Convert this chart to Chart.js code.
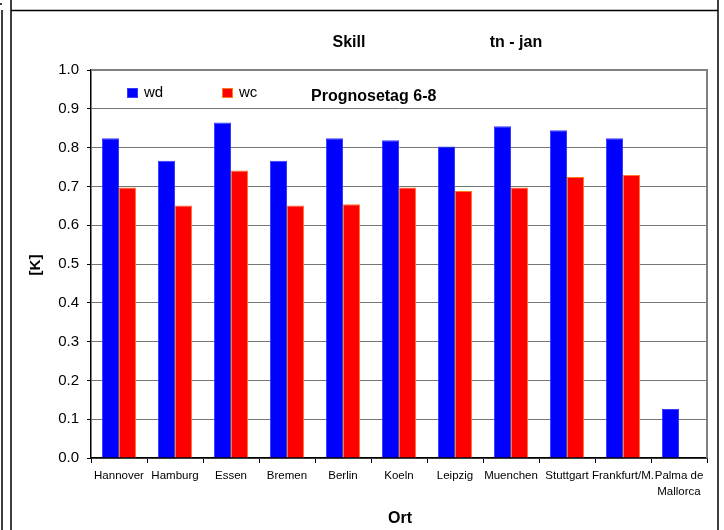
<!DOCTYPE html>
<html>
<head>
<meta charset="utf-8">
<script src="https://cdn.jsdelivr.net/npm/chart.js@4/dist/chart.umd.min.js"></script>
<style>
  html, body { margin: 0; padding: 0; background: #fff; }
  #wrap { width: 724px; height: 530px; }
</style>
</head>
<body>
<div id="wrap"><canvas id="c" width="724" height="530"></canvas></div>
<script>
// ---- data ----
const categories = ['Hannover', 'Hamburg', 'Essen', 'Bremen', 'Berlin', 'Koeln', 'Leipzig',
  'Muenchen', 'Stuttgart', 'Frankfurt/M.', ['Palma de', 'Mallorca']];
const wdValues = [0.824, 0.766, 0.865, 0.766, 0.824, 0.819, 0.803, 0.855, 0.845, 0.824, 0.126];
const wcValues = [0.697, 0.651, 0.741, 0.651, 0.654, 0.697, 0.688, 0.697, 0.724, 0.730, null];
const seriesNames = ['wd', 'wc'];
const yMin = 0.0, yMax = 1.0, yStep = 0.1;
const titleLeft = 'Skill';
const titleRight = 'tn - jan';
const subTitle = 'Prognosetag 6-8';
const xTitle = 'Ort';
const yTitle = '[K]';

const FONT = "'Liberation Sans', Arial, Helvetica, sans-serif";

const decorPlugin = {
  id: 'decor',
  beforeDraw(chart) {
    const ctx = chart.ctx;
    ctx.save();
    ctx.fillStyle = '#fff';
    ctx.fillRect(0, 0, chart.width, chart.height);
    // outer frame lines
    ctx.strokeStyle = '#000';
    ctx.lineWidth = 1.5;
    ctx.beginPath();
    ctx.moveTo(11, 0); ctx.lineTo(11, 530);
    ctx.moveTo(11, 10.5); ctx.lineTo(718, 10.5);
    ctx.moveTo(718, 0); ctx.lineTo(718, 530);
    ctx.moveTo(2, 10); ctx.lineTo(2, 530);
    ctx.moveTo(0, 4); ctx.lineTo(2, 4);
    ctx.stroke();
    ctx.restore();
  },
  afterDraw(chart) {
    const ctx = chart.ctx;
    const a = chart.chartArea;
    ctx.save();
    // plot area border (top and right), grey
    ctx.strokeStyle = '#808080';
    ctx.lineWidth = 2;
    ctx.beginPath();
    ctx.moveTo(a.left, a.top); ctx.lineTo(a.right, a.top); ctx.lineTo(a.right, a.bottom);
    ctx.stroke();

    ctx.fillStyle = '#000';
    ctx.textBaseline = 'middle';
    ctx.textAlign = 'center';
    ctx.font = 'bold 16px ' + FONT;
    ctx.fillText(titleLeft, 349, 43);
    ctx.fillText(titleRight, 516, 43);
    ctx.fillText(xTitle, (a.left + a.right) / 2 + 1, 519);

    ctx.textAlign = 'left';
    ctx.fillText(subTitle, 311, 97);

    // y-axis title rotated
    ctx.save();
    ctx.translate(36, 265);
    ctx.rotate(-Math.PI / 2);
    ctx.textAlign = 'center';
    ctx.font = 'bold 15px ' + FONT;
    ctx.fillText(yTitle, 0, 0);
    ctx.restore();

    // legend
    const legendPos = [{ x: 127, y: 88 }, { x: 222, y: 88 }];
    ctx.font = '15px ' + FONT;
    ctx.textAlign = 'left';
    chart.data.datasets.forEach((ds, i) => {
      const p = legendPos[i];
      ctx.fillStyle = ds.backgroundColor;
      ctx.fillRect(p.x, p.y, 11, 10);
      ctx.strokeStyle = ds.borderColor;
      ctx.lineWidth = 1;
      ctx.strokeRect(p.x + 0.5, p.y + 0.5, 10, 9);
      ctx.fillStyle = '#000';
      ctx.fillText(ds.label, p.x + 17, p.y + 5);
    });
    ctx.restore();
  }
};

new Chart(document.getElementById('c'), {
  type: 'bar',
  data: {
    labels: categories,
    datasets: [
      { label: seriesNames[0], data: wdValues, backgroundColor: '#0000ff', borderColor: '#3a3aff', borderWidth: 1,
        categoryPercentage: 0.61, barPercentage: 1.0 },
      { label: seriesNames[1], data: wcValues, backgroundColor: '#ff0000', borderColor: '#ff7a1a', borderWidth: 1,
        categoryPercentage: 0.61, barPercentage: 1.0 }
    ]
  },
  options: {
    responsive: false,
    animation: false,
    devicePixelRatio: 1,
    layout: { padding: { top: 70, right: 17, left: 0, bottom: 0 } },
    plugins: { legend: { display: false }, title: { display: false }, tooltip: { enabled: false } },
    scales: {
      x: {
        grid: { offset: true, drawOnChartArea: false, drawTicks: true, tickLength: 5, color: '#000', tickColor: '#000', lineWidth: 1 },
        border: { color: '#000', width: 1.5 },
        ticks: { color: '#000', font: { family: FONT, size: 11.5, lineHeight: 1.4 }, padding: 5, maxRotation: 0, minRotation: 0, autoSkip: false },
        afterFit(s) { s.height = 72; }
      },
      y: {
        min: yMin, max: yMax,
        grid: { color: '#767676', tickColor: '#000', tickLength: 4, lineWidth: 1 },
        border: { color: '#000', width: 1.5 },
        ticks: { stepSize: yStep, color: '#000', font: { family: FONT, size: 15 }, padding: 8,
          callback: v => Number(v).toFixed(1) },
        afterFit(s) { s.width = 91; }
      }
    }
  },
  plugins: [decorPlugin]
});
</script>
</body>
</html>
